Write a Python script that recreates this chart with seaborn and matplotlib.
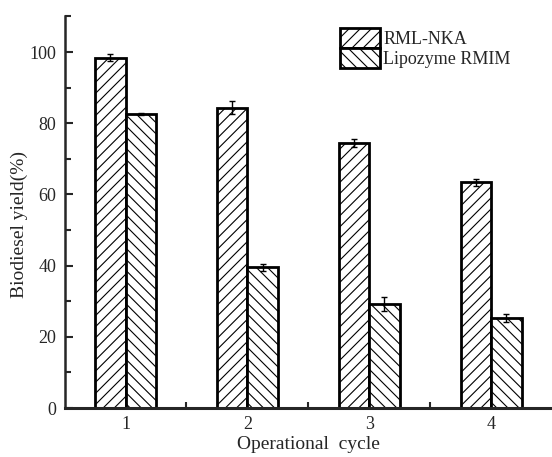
import pandas as pd
import matplotlib
matplotlib.use("Agg")
import matplotlib.pyplot as plt
import seaborn as sns
from matplotlib.ticker import MultipleLocator, FixedLocator

# data
cycles = ["1", "2", "3", "4"]
rml_nka = [98.4, 84.4, 74.5, 63.4]
rml_nka_err = [1.0, 1.9, 1.1, 1.0]
lipozyme = [82.6, 39.6, 29.2, 25.3]
lipozyme_err = [0.3, 1.0, 1.9, 1.0]
series = ["RML-NKA", "Lipozyme RMIM"]

df = pd.DataFrame({
    "cycle": cycles * 2,
    "yield": rml_nka + lipozyme,
    "err": rml_nka_err + lipozyme_err,
    "enzyme": [series[0]] * 4 + [series[1]] * 4,
})

sns.set_style("ticks")
plt.rcParams["font.family"] = ["Liberation Serif", "DejaVu Serif"]
plt.rcParams["hatch.linewidth"] = 0.8
plt.rcParams["hatch.color"] = "black"

fig = plt.figure(figsize=(5.52, 4.57), dpi=100)
ax = fig.add_axes([0.117, 0.107, 0.883, 0.857])

sns.barplot(data=df, x="cycle", y="yield", hue="enzyme", order=cycles,
            hue_order=series, width=0.5, errorbar=None, ax=ax,
            palette=["white", "white"], edgecolor="black", linewidth=2,
            legend=False)

hatches = {series[0]: "///", series[1]: "\\\\\\"}
handles = []
for cont, name in zip(ax.containers, series):
    sub = df[df["enzyme"] == name]
    xs = []
    for bar in cont:
        bar.set_hatch(hatches[name])
        xs.append(bar.get_x() + bar.get_width() / 2)
    ax.errorbar(xs, sub["yield"], yerr=sub["err"], fmt="none",
                ecolor="black", elinewidth=1, capsize=2.5, capthick=1)
    handles.append(cont[0])

ax.set_xlim(-0.5, 3.5)
ax.set_ylim(0, 110)
ax.yaxis.set_major_locator(FixedLocator([0, 20, 40, 60, 80, 100]))
ax.yaxis.set_minor_locator(MultipleLocator(10))
ax.xaxis.set_minor_locator(FixedLocator([0.5, 1.5, 2.5]))
ax.tick_params(axis="both", which="major", direction="in", length=6, width=1.5,
               labelsize=13, pad=6)
ax.tick_params(axis="both", which="minor", direction="in", length=4, width=1.5)

for s in ["top", "right"]:
    ax.spines[s].set_visible(False)
ax.spines["left"].set_linewidth(1.8)
ax.spines["bottom"].set_linewidth(2.2)

ax.set_xlabel("Operational  cycle", fontsize=14, labelpad=2)
ax.set_ylabel("Biodiesel yield(%)", fontsize=14)
ax.yaxis.set_label_coords(-0.075, 0.47)

ax.legend(handles, series, loc="upper left", bbox_to_anchor=(0.565, 0.97),
          frameon=False, fontsize=13, handlelength=2.2, handleheight=1.3,
          labelspacing=0.0, handletextpad=0.2, borderaxespad=0,
          borderpad=0)

fig.savefig("out.png", dpi=100)
